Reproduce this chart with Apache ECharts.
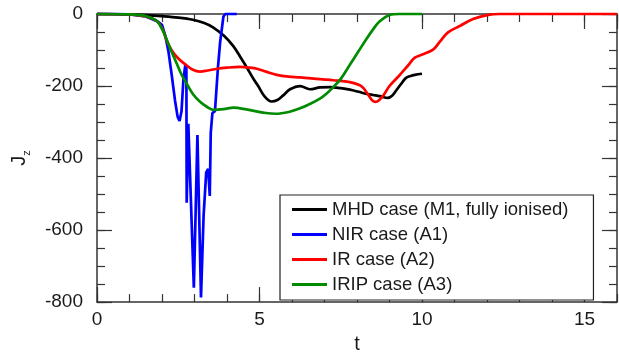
<!DOCTYPE html>
<html>
<head>
<meta charset="utf-8">
<script src="https://cdn.jsdelivr.net/npm/echarts@6/dist/echarts.min.js"></script>
<style>html,body{margin:0;padding:0;background:#fff}#c{width:619px;height:359px}</style>
</head>
<body>
<div id="c"></div>
<script>
var seriesNames = ['MHD case (M1, fully ionised)', 'NIR case (A1)', 'IR case (A2)', 'IRIP case (A3)'];
var colors = ['#000000', '#0000ff', '#ff0000', '#008b00'];
var xTickLabels = ['0', '5', '10', '15'];
var yTickLabels = ['-800', '-600', '-400', '-200', '0'];

var mhd = [[0,0],[1,-1],[1.5,-3],[2,-6],[2.5,-10],[2.95,-16],[3.3,-25],[3.57,-37],[3.9,-60],[4.2,-90],[4.4,-118],[4.6,-147],[4.8,-178],[4.96,-200],[5.15,-228],[5.37,-243],[5.55,-239],[5.73,-226],[5.94,-209],[6.25,-200],[6.55,-209],[6.86,-204],[7.17,-203],[7.5,-206],[7.78,-210],[8.05,-216],[8.3,-222],[8.5,-225],[8.7,-228],[8.95,-233],[9.1,-225],[9.2,-213],[9.35,-195],[9.5,-178],[9.65,-172],[9.78,-169],[10.0,-166]];

var nir = [[0,0],[0.5,0],[1.0,-1],[1.5,-7],[1.85,-20],[2.0,-30],[2.1,-60],[2.2,-105],[2.3,-170],[2.4,-240],[2.48,-285],[2.54,-297],[2.6,-270],[2.66,-180],[2.72,-140],[2.75,-150],[2.76,-524],[2.81,-305],[2.85,-305],[2.98,-760],[3.09,-336],[3.2,-787],[3.28,-560],[3.36,-440],[3.42,-430],[3.47,-505],[3.5,-330],[3.55,-275],[3.63,-270],[3.72,-150],[3.79,-77],[3.89,-7],[3.95,0],[4.3,0]];

var ir = [[0,0],[1.0,-1],[1.5,-7],[1.85,-20],[2.03,-45],[2.09,-60],[2.2,-85],[2.35,-108],[2.55,-128],[2.76,-143],[2.95,-155],[3.17,-160],[3.4,-157],[3.69,-152],[4.0,-149],[4.4,-147],[4.7,-149],[4.92,-152],[5.2,-160],[5.53,-169],[5.9,-174],[6.25,-176],[6.86,-181],[7.27,-184],[7.78,-189],[8.09,-198],[8.2,-206],[8.3,-218],[8.46,-239],[8.58,-244],[8.77,-231],[9.0,-200],[9.32,-169],[9.57,-143],[9.78,-121],[10.03,-112],[10.34,-99],[10.55,-77],[10.8,-51],[11.17,-33],[11.57,-14],[12.0,-3],[12.4,0],[16,0]];

var irip = [[0,0],[1.0,-1],[1.3,-3],[1.54,-7],[1.85,-20],[2.03,-47],[2.15,-72],[2.25,-95],[2.46,-139],[2.6,-168],[2.77,-195],[2.95,-222],[3.17,-244],[3.4,-259],[3.57,-266],[3.9,-264],[4.2,-260],[4.6,-265],[5.2,-275],[5.5,-277],[5.9,-272],[6.25,-262],[6.55,-250],[6.86,-235],[7.05,-222],[7.27,-203],[7.5,-180],[7.78,-141],[8.05,-103],[8.3,-68],[8.5,-42],[8.7,-20],[9.0,-3],[9.3,0],[10.0,0]];

var FONT = 'Liberation Sans';
var axisColor = '#333';
var chart = echarts.init(document.getElementById('c'), null, {renderer: 'canvas'});

function xAx(pos, interval, len, labels, line) {
  return {
    type: 'value', position: pos, offset: 0, min: 0, max: 16, interval: interval,
    name: (labels ? 't' : ''), nameLocation: 'middle', nameGap: 31,
    nameTextStyle: {fontFamily: FONT, fontSize: 20, color: '#1a1a1a'},
    axisLine: {show: line, onZero: false, lineStyle: {color: axisColor, width: 1.5}},
    axisTick: {show: true, inside: true, length: len, lineStyle: {color: axisColor, width: 1.2}},
    axisLabel: {show: labels, showMaxLabel: false, margin: 8, fontFamily: FONT, fontSize: 19, color: '#1a1a1a',
      formatter: function (v) { var s = String(v); return xTickLabels.indexOf(s) >= 0 ? s : ''; }},
    splitLine: {show: false}
  };
}
function yAx(pos, interval, len, labels, line) {
  return {
    type: 'value', position: pos, offset: 0, min: -800, max: 0, interval: interval,
    name: (labels ? '{m|J}{s|z}' : ''), nameLocation: 'middle', nameGap: 68, nameRotate: 90,
    nameTextStyle: {fontFamily: FONT, color: '#1a1a1a', rich: {
      m: {fontFamily: FONT, fontSize: 20, color: '#1a1a1a'},
      s: {fontFamily: FONT, fontSize: 11, color: '#1a1a1a', verticalAlign: 'bottom', padding: [0,0,-3,0]}
    }},
    axisLine: {show: line, onZero: false, lineStyle: {color: axisColor, width: 1.5}},
    axisTick: {show: true, inside: true, length: len, lineStyle: {color: axisColor, width: 1.2}},
    axisLabel: {show: labels, inside: false, margin: 14, fontFamily: FONT, fontSize: 19, color: '#1a1a1a',
      formatter: function (v) { var s = String(v); return yTickLabels.indexOf(s) >= 0 ? s : ''; }},
    splitLine: {show: false}
  };
}

var datas = [mhd, nir, ir, irip];
var series = datas.map(function (d, i) {
  return {
    name: seriesNames[i], type: 'line', data: d, xAxisIndex: 0, yAxisIndex: 0,
    symbol: 'none', showSymbol: false, clip: false,
    smooth: i === 1 ? false : 0.35,
    lineStyle: {color: colors[i], width: 2.7},
    itemStyle: {color: colors[i]},
    z: 3
  };
});

chart.setOption({
  animation: false,
  backgroundColor: '#fff',
  grid: {left: 97, right: 2, top: 14, bottom: 41, containLabel: false},
  xAxis: [xAx('bottom', 5, 15, true, true), xAx('bottom', 1, 8, false, false),
          xAx('top', 5, 15, false, true), xAx('top', 1, 8, false, false)],
  yAxis: [yAx('left', 200, 15, true, true), yAx('left', 50, 8, false, false),
          yAx('right', 200, 15, false, true), yAx('right', 50, 8, false, false)],
  legend: {
    orient: 'vertical', left: 280, top: 195,
    data: seriesNames.map(function (n) { return {name: n, icon: 'rect'}; }),
    borderColor: '#222', borderWidth: 1.2, backgroundColor: '#fff',
    padding: [5, 25, 6, 12], itemGap: 6, itemWidth: 35, itemHeight: 3,
    textStyle: {fontFamily: FONT, fontSize: 18.5, color: '#1a1a1a'}
  },
  series: series
});
</script>
</body>
</html>
